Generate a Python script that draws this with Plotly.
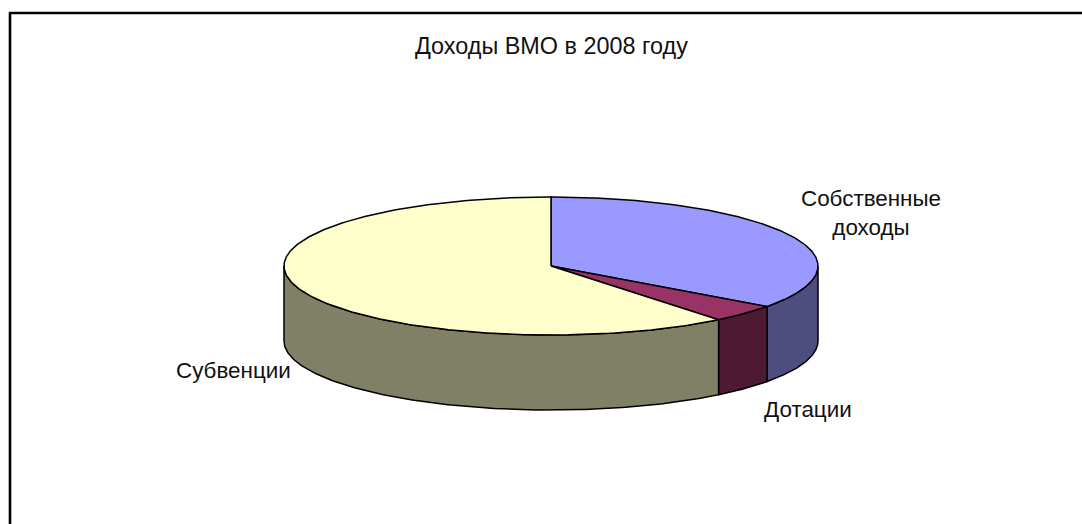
import numpy as np
import plotly.graph_objects as go

categories = ["Собственные доходы", "Дотации", "Субвенции"]
values = [35.0, 4.2, 60.8]
top_colors = ["#9999ff", "#993366", "#ffffcc"]
side_colors = ["#4d4d80", "#4d1933", "#808066"]
title_text = "Доходы ВМО в 2008 году"

W, H = 1082, 524
cx, cy, rx, ry, depth = 551, 266, 267, 69, 75


def ex(t):
    return cx + rx * np.sin(t)


def ey(t):
    return cy - ry * np.cos(t)


fig = go.Figure()
edges = np.cumsum([0] + values) / sum(values) * 2 * np.pi
line = dict(color="#000000", width=1.5)

# side walls (visible front half only)
for i, name in enumerate(categories):
    a, b = max(edges[i], np.pi / 2), min(edges[i + 1], 3 * np.pi / 2)
    if b <= a:
        continue
    t = np.linspace(a, b, 160)
    x = np.r_[ex(t), ex(t[::-1]), ex(t[0])]
    y = np.r_[ey(t), ey(t[::-1]) + depth, ey(t[0])]
    fig.add_trace(go.Scatter(x=x, y=y, mode="lines", fill="toself", fillcolor=side_colors[i],
                             line=line, hoverinfo="skip", showlegend=False))

# top faces
for i, name in enumerate(categories):
    t = np.linspace(edges[i], edges[i + 1], 300)
    x = np.r_[cx, ex(t), cx]
    y = np.r_[cy, ey(t), cy]
    fig.add_trace(go.Scatter(x=x, y=y, mode="lines", fill="toself", fillcolor=top_colors[i],
                             line=line, name=name, hoverinfo="name", showlegend=False))

family = "Liberation Sans, Arial, sans-serif"
font = dict(family=family, size=22.4, color="#111111")
fig.add_annotation(x=551.5, y=46, text=title_text, showarrow=False,
                   font=dict(family=family, size=23.4, color="#111111"))
fig.add_annotation(x=871, y=213, text="Собственные<br>доходы", showarrow=False, font=font, align="center")
fig.add_annotation(x=808, y=409, text=categories[1], showarrow=False, font=font)
fig.add_annotation(x=233, y=370, text=categories[2], showarrow=False, font=font)

frame = dict(color="#000000", width=2.6)
fig.add_shape(type="line", x0=10, x1=10, y0=12.5, y1=H, line=frame)
fig.add_shape(type="line", x0=9, x1=W, y0=13, y1=13, line=frame)

fig.update_layout(
    width=W, height=H, margin=dict(l=0, r=0, t=0, b=0),
    paper_bgcolor="white", plot_bgcolor="white",
    xaxis=dict(range=[0, W], visible=False, fixedrange=True),
    yaxis=dict(range=[H, 0], visible=False, fixedrange=True),
)
fig.write_html("out.html", config={"displayModeBar": False},
               post_script="document.body.style.margin='0';document.documentElement.style.overflow='hidden';")
